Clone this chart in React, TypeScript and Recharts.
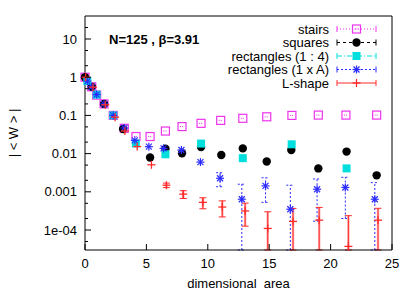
import React from 'react';
import { ScatterChart, Scatter, XAxis, YAxis, ErrorBar, Legend } from 'recharts';

const FONT = '"Liberation Sans", Arial, Helvetica, sans-serif';
const Y_MIN = 3e-5;
const Y_MAX = 40;

// axis ticks
const X_TICKS = [0, 5, 10, 15, 20, 25];
const Y_MAJOR = [1e-4, 1e-3, 1e-2, 1e-1, 1, 10];
const Y_LABELS = ['1e-04', '0.001', '0.01', '0.1', '1', '10'];
const Y_MINOR = [5e-5, 2e-4, 5e-4, 2e-3, 5e-3, 2e-2, 5e-2, 0.2, 0.5, 2, 5, 20];

// stairs
const STAIRS_X = [0, 0.55, 0.95, 1.55, 2.3, 3.2, 4.15, 5.3, 6.55, 7.9, 9.45, 11.05, 12.85, 14.8, 16.85, 19.0, 21.25, 23.75];
const STAIRS_W = [1.0, 0.56, 0.34, 0.2, 0.1, 0.046, 0.028, 0.028, 0.039, 0.051, 0.062, 0.074, 0.084, 0.092, 0.1, 0.102, 0.102, 0.102];

// squares
const SQUARES_X = [0, 0.55, 1.55, 3.1, 5.3, 6.55, 7.9, 9.45, 11.1, 12.85, 14.8, 16.8, 19.0, 21.3, 23.75];
const SQUARES_W = [1.0, 0.56, 0.2, 0.044, 0.0079, 0.0135, 0.0102, 0.0149, 0.0092, 0.0137, 0.0062, 0.0124, 0.0041, 0.0113, 0.0027];

// rectangles (1 : 4)
const RECT14_X = [0.19, 0.95, 2.3, 4.14, 6.55, 9.45, 12.85, 16.83, 21.3];
const RECT14_W = [0.79, 0.35, 0.1, 0.0185, 0.0096, 0.0183, 0.0076, 0.0175, 0.0041];

// rectangles (1 x A)
const RECT1A_X = [0.19, 0.55, 0.95, 1.55, 2.3, 3.2, 4.06, 5.2, 6.4, 7.85, 9.4, 11.0, 12.77, 14.7, 16.72, 18.9, 21.2, 23.6];
const RECT1A_W = [0.79, 0.56, 0.35, 0.2, 0.1, 0.047, 0.0222, 0.0152, 0.0137, 0.0124, 0.006, 0.00226, 0.00064, 0.00143, 0.00035, 0.00117, 0.0013, 0.00064];
const RECT1A_ERR = [0, 0, 0, 0, 0, 0, 0, 0, 0, 0, 0, 0.0009, 0.00094, 0.0009, 0.00114, 0.001, 0.0011, 0.0011];

// L-shape
const LSHAPE_X = [0.05, 0.65, 1.65, 2.45, 3.25, 4.25, 5.41, 6.63, 8.0, 9.6, 11.18, 13.04, 14.88, 16.94, 19.07, 21.45, 23.86];
const LSHAPE_W = [1.0, 0.55, 0.19, 0.09, 0.039, 0.0153, 0.0051, 0.00149, 0.00087, 0.00053, 0.0004, 0.000316, 0.00011, 0.000168, 0.000181, 0.0000373, 0.000181];
const LSHAPE_ERR = [0, 0, 0, 0, 0, 0, 0, 0.0002, 0.0002, 0.00017, 0.00018, 0.00019, 0.00019, 0.0002, 0.00021, 0.0002, 0.00019];

const COLORS = {
  stairs: '#ee33ee',
  squares: '#000000',
  rect14: '#00dede',
  rect1A: '#2b2bff',
  lshape: '#ff2a2a',
};

type Kind = 'openSquare' | 'circle' | 'square' | 'star' | 'plus';

const LEGEND = [
  { name: 'stairs', color: COLORS.stairs, dash: '1 2', kind: 'openSquare' as Kind },
  { name: 'squares', color: COLORS.squares, dash: '3 3', kind: 'circle' as Kind },
  { name: 'rectangles (1 : 4)', color: COLORS.rect14, dash: '5 2 1 2', kind: 'square' as Kind },
  { name: 'rectangles (1 x A)', color: COLORS.rect1A, dash: '2 2', kind: 'star' as Kind },
  { name: 'L-shape', color: COLORS.lshape, dash: '', kind: 'plus' as Kind },
];

// asymmetric errors: lower end never goes below the visible range
function toPoints(xs: number[], ws: number[], errs?: number[]) {
  return xs.map((x, i) => {
    const e = errs ? errs[i] : 0;
    const low = Math.max(ws[i] - e, Y_MIN);
    return { x, y: ws[i], err: e ? [ws[i] - low, e] : null };
  });
}

const stairsData = toPoints(STAIRS_X, STAIRS_W);
const squaresData = toPoints(SQUARES_X, SQUARES_W);
const rect14Data = toPoints(RECT14_X, RECT14_W);
const rect1AData = toPoints(RECT1A_X, RECT1A_W, RECT1A_ERR);
const lshapeData = toPoints(LSHAPE_X, LSHAPE_W, LSHAPE_ERR);

function Marker({ kind, color, cx, cy }: { kind: Kind; color: string; cx: number; cy: number }) {
  if (cx == null || cy == null || isNaN(cx) || isNaN(cy)) return null;
  switch (kind) {
    case 'openSquare':
      return (
        <g>
          <rect x={cx - 4} y={cy - 4} width={8} height={8} fill="none" stroke={color} strokeWidth={1.2} />
          <line x1={cx - 2} y1={cy} x2={cx + 2} y2={cy} stroke={color} strokeWidth={1} strokeDasharray="1 1" />
        </g>
      );
    case 'circle':
      return <circle cx={cx} cy={cy} r={4.2} fill={color} />;
    case 'square':
      return <rect x={cx - 4} y={cy - 4} width={8} height={8} fill={color} />;
    case 'star':
      return (
        <g stroke={color} strokeWidth={1.2}>
          <line x1={cx - 4} y1={cy} x2={cx + 4} y2={cy} />
          <line x1={cx} y1={cy - 4} x2={cx} y2={cy + 4} />
          <line x1={cx - 3} y1={cy - 3} x2={cx + 3} y2={cy + 3} />
          <line x1={cx - 3} y1={cy + 3} x2={cx + 3} y2={cy - 3} />
        </g>
      );
    default:
      return (
        <g stroke={color} strokeWidth={1.3}>
          <line x1={cx - 4} y1={cy} x2={cx + 4} y2={cy} />
          <line x1={cx} y1={cy - 4} x2={cx} y2={cy + 4} />
        </g>
      );
  }
}

function BottomTick(props: any) {
  const { x, y, payload } = props;
  return (
    <g>
      <line x1={x} y1={y} x2={x} y2={y - 6} stroke="#000" />
      <text x={x} y={y + 18} textAnchor="middle" fontSize={13} fontFamily={FONT} fill="#000">
        {payload.value}
      </text>
    </g>
  );
}

function TopTick(props: any) {
  const { x, y } = props;
  return <line x1={x} y1={y} x2={x} y2={y + 6} stroke="#000" />;
}

function LeftTick(props: any) {
  const { x, y, payload } = props;
  const idx = Y_MAJOR.indexOf(payload.value);
  const len = idx >= 0 ? 6 : 3;
  return (
    <g>
      <line x1={x} y1={y} x2={x + len} y2={y} stroke="#000" />
      {idx >= 0 && (
        <text x={x - 8} y={y + 4.5} textAnchor="end" fontSize={13} fontFamily={FONT} fill="#000">
          {Y_LABELS[idx]}
        </text>
      )}
    </g>
  );
}

function RightTick(props: any) {
  const { x, y, payload } = props;
  const len = Y_MAJOR.includes(payload.value) ? 6 : 3;
  return <line x1={x} y1={y} x2={x - len} y2={y} stroke="#000" />;
}

function LegendBox() {
  return (
    <svg width={415} height={100} style={{ display: 'block' }}>
      <text x={109} y={44} fontSize={13} fontWeight="bold" fontFamily={FONT} fill="#000">
        N=125 , β=3.91
      </text>
      {LEGEND.map((item, i) => {
        const y = 29 + i * 13.5;
        return (
          <g key={item.name}>
            <text x={329} y={y + 4.5} textAnchor="end" fontSize={13} fontFamily={FONT} fill="#000">
              {item.name}
            </text>
            <line x1={337} y1={y} x2={376} y2={y} stroke={item.color} strokeDasharray={item.dash || undefined} />
            <line x1={337} y1={y - 3} x2={337} y2={y + 3} stroke={item.color} />
            <line x1={376} y1={y - 3} x2={376} y2={y + 3} stroke={item.color} />
            <Marker kind={item.kind} color={item.color} cx={356.5} cy={y} />
          </g>
        );
      })}
    </svg>
  );
}

export default function App() {
  return (
    <div style={{ position: 'absolute', left: 0, top: 0, background: '#fff' }}>
      <ScatterChart width={415} height={291} margin={{ top: 0, right: 0, bottom: 0, left: 0 }}>
        <Legend
          layout="vertical"
          align="center"
          verticalAlign="middle"
          content={() => <LegendBox />}
          wrapperStyle={{ left: 0, top: 0, width: 415, height: 100, pointerEvents: 'none' }}
        />
        <Scatter xAxisId="b" yAxisId="l" data={stairsData} dataKey="y" isAnimationActive={false}
          shape={(p: any) => <Marker kind="openSquare" color={COLORS.stairs} cx={p.cx} cy={p.cy} />} />
        <Scatter xAxisId="b" yAxisId="l" data={squaresData} dataKey="y" isAnimationActive={false}
          shape={(p: any) => <Marker kind="circle" color={COLORS.squares} cx={p.cx} cy={p.cy} />} />
        <Scatter xAxisId="b" yAxisId="l" data={rect14Data} dataKey="y" isAnimationActive={false}
          shape={(p: any) => <Marker kind="square" color={COLORS.rect14} cx={p.cx} cy={p.cy} />} />
        <Scatter xAxisId="b" yAxisId="l" data={rect1AData} dataKey="y" isAnimationActive={false}
          shape={(p: any) => <Marker kind="star" color={COLORS.rect1A} cx={p.cx} cy={p.cy} />}>
          <ErrorBar dataKey="err" direction="y" width={4} stroke={COLORS.rect1A} strokeWidth={1}
            strokeDasharray="2 2" isAnimationActive={false} />
        </Scatter>
        <Scatter xAxisId="b" yAxisId="l" data={lshapeData} dataKey="y" isAnimationActive={false}
          shape={(p: any) => <Marker kind="plus" color={COLORS.lshape} cx={p.cx} cy={p.cy} />}>
          <ErrorBar dataKey="err" direction="y" width={0} stroke="#ffb0b0" strokeWidth={2.5} isAnimationActive={false} />
          <ErrorBar dataKey="err" direction="y" width={3.5} stroke={COLORS.lshape} strokeWidth={1} isAnimationActive={false} />
        </Scatter>
        <XAxis xAxisId="b" type="number" dataKey="x" orientation="bottom" height={41} domain={[0, 25]}
          ticks={X_TICKS} interval={0} tickSize={0} tickMargin={0} tickLine={false}
          axisLine={{ stroke: '#000' }} tick={(p: any) => <BottomTick {...p} />}
          label={(p: any) => {
            const vb = p.viewBox;
            return (
              <text x={vb.x + vb.width / 2} y={vb.y + 38} textAnchor="middle" fontSize={13} fontFamily={FONT}
                fill="#000" style={{ whiteSpace: 'pre' }}>
                {'dimensional  area'}
              </text>
            );
          }} />
        <XAxis xAxisId="t" type="number" orientation="top" height={16} domain={[0, 25]}
          ticks={X_TICKS} interval={0} tickSize={0} tickMargin={0} tickLine={false}
          axisLine={{ stroke: '#000' }} tick={(p: any) => <TopTick {...p} />} />
        <YAxis yAxisId="l" type="number" scale="log" width={85} domain={[Y_MIN, Y_MAX]}
          ticks={[...Y_MAJOR, ...Y_MINOR]} interval={0} tickSize={0} tickMargin={0} tickLine={false}
          axisLine={{ stroke: '#000' }} tick={(p: any) => <LeftTick {...p} />}
          label={(p: any) => {
            const vb = p.viewBox;
            const cx = vb.x + 18;
            const cy = vb.y + vb.height / 2;
            return (
              <text x={cx} y={cy} transform={`rotate(-90 ${cx} ${cy})`} textAnchor="middle" fontSize={13}
                fontFamily={FONT} fill="#000" style={{ whiteSpace: 'pre' }}>
                {'| < W > |'}
              </text>
            );
          }} />
        <YAxis yAxisId="r" type="number" scale="log" orientation="right" width={23} domain={[Y_MIN, Y_MAX]}
          ticks={[...Y_MAJOR, ...Y_MINOR]} interval={0} tickSize={0} tickMargin={0} tickLine={false}
          axisLine={{ stroke: '#000' }} tick={(p: any) => <RightTick {...p} />} />
      </ScatterChart>
    </div>
  );
}
